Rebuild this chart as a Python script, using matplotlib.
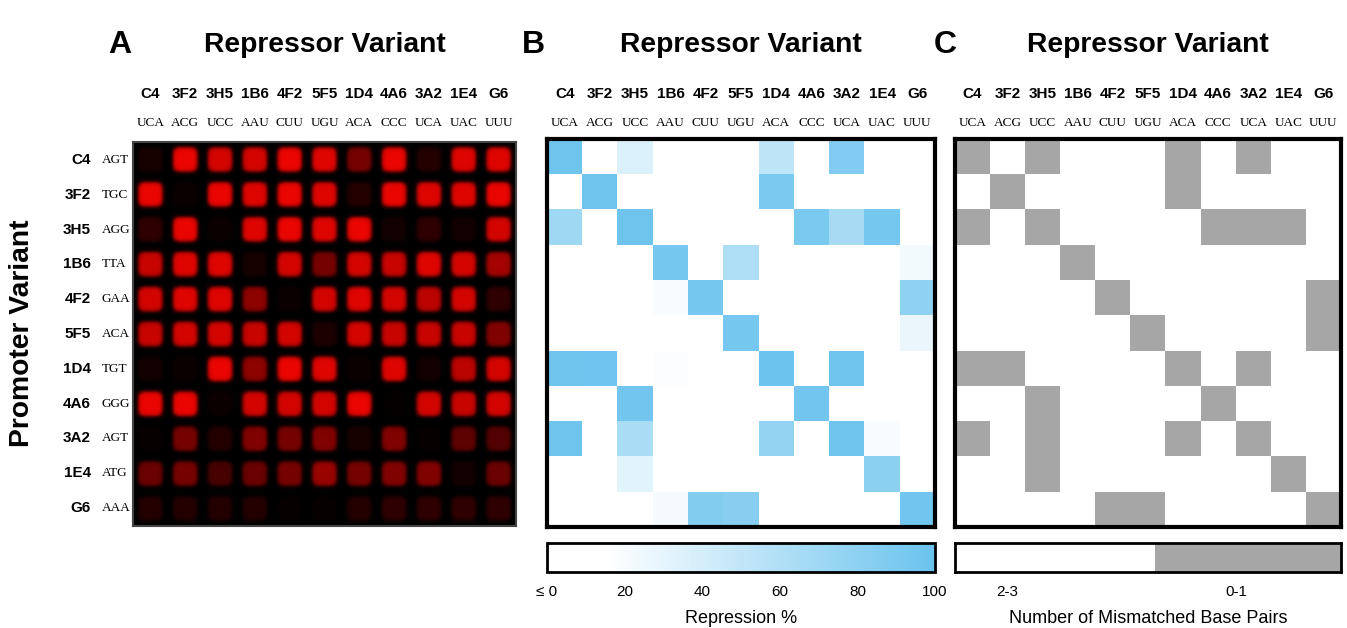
import numpy as np
import matplotlib
matplotlib.use('Agg')
import matplotlib.pyplot as plt
from matplotlib.colors import LinearSegmentedColormap, ListedColormap, Normalize
from matplotlib.transforms import blended_transform_factory
import matplotlib.cm as cm

# --- DATA ---
repressors = ["C4", "3F2", "3H5", "1B6", "4F2", "5F5", "1D4", "4A6", "3A2", "1E4", "G6"]
repressor_codons = ["UCA", "ACG", "UCC", "AAU", "CUU", "UGU", "ACA", "CCC", "UCA", "UAC", "UUU"]
promoters = ["C4", "3F2", "3H5", "1B6", "4F2", "5F5", "1D4", "4A6", "3A2", "1E4", "G6"]
promoter_codons = ["AGT", "TGC", "AGG", "TTA", "GAA", "ACA", "TGT", "GGG", "AGT", "ATG", "AAA"]

# panel A: relative fluorescence of each spot (0..1)
fluorescence = [
    [0.10, 1.00, 0.90, 0.90, 1.00, 0.95, 0.50, 1.00, 0.15, 0.95, 0.95],
    [1.00, 0.05, 1.00, 0.95, 1.00, 0.95, 0.15, 1.00, 0.95, 0.95, 1.00],
    [0.20, 1.00, 0.05, 0.95, 1.00, 0.95, 1.00, 0.08, 0.20, 0.08, 0.90],
    [0.85, 0.95, 0.95, 0.10, 0.90, 0.50, 0.90, 0.85, 0.95, 0.90, 0.70],
    [0.90, 0.95, 0.95, 0.60, 0.05, 0.90, 0.95, 0.90, 0.80, 0.90, 0.20],
    [0.85, 0.90, 0.90, 0.85, 0.90, 0.12, 0.90, 0.85, 0.85, 0.85, 0.55],
    [0.08, 0.05, 1.00, 0.60, 1.00, 0.95, 0.05, 0.95, 0.08, 0.80, 0.90],
    [1.00, 1.00, 0.05, 0.90, 0.90, 0.90, 1.00, 0.02, 0.90, 0.85, 0.90],
    [0.03, 0.50, 0.15, 0.55, 0.50, 0.55, 0.10, 0.55, 0.03, 0.40, 0.35],
    [0.45, 0.50, 0.30, 0.45, 0.50, 0.65, 0.50, 0.55, 0.55, 0.08, 0.45],
    [0.15, 0.15, 0.15, 0.15, 0.03, 0.03, 0.15, 0.20, 0.20, 0.20, 0.20],
]

# panel B: repression %
repression = [
    [97, 0, 36, 0, 0, 0, 52, 0, 87, 0, 0],
    [0, 97, 0, 0, 0, 0, 91, 0, 0, 0, 0],
    [70, 0, 97, 0, 0, 0, 0, 91, 65, 93, 0],
    [0, 0, 0, 93, 0, 61, 0, 0, 0, 0, 22],
    [0, 0, 0, 18, 93, 0, 0, 0, 0, 0, 79],
    [0, 0, 0, 0, 0, 93, 0, 0, 0, 0, 27],
    [97, 98, 0, 17, 0, 0, 100, 0, 97, 0, 0],
    [0, 0, 96, 0, 0, 0, 0, 96, 0, 0, 0],
    [97, 0, 64, 0, 0, 0, 76, 0, 97, 18, 0],
    [0, 0, 32, 0, 0, 0, 0, 0, 0, 81, 0],
    [0, 0, 0, 21, 86, 83, 0, 0, 0, 0, 96],
]
repr_ticks = [0, 20, 40, 60, 80, 100]
repr_tick_labels = ["≤ 0", "20", "40", "60", "80", "100"]

# panel C: 1 = 0-1 mismatches, 0 = 2-3 mismatches
low_mismatch = [
    [1, 0, 1, 0, 0, 0, 1, 0, 1, 0, 0],
    [0, 1, 0, 0, 0, 0, 1, 0, 0, 0, 0],
    [1, 0, 1, 0, 0, 0, 0, 1, 1, 1, 0],
    [0, 0, 0, 1, 0, 0, 0, 0, 0, 0, 0],
    [0, 0, 0, 0, 1, 0, 0, 0, 0, 0, 1],
    [0, 0, 0, 0, 0, 1, 0, 0, 0, 0, 1],
    [1, 1, 0, 0, 0, 0, 1, 0, 1, 0, 0],
    [0, 0, 1, 0, 0, 0, 0, 1, 0, 0, 0],
    [1, 0, 1, 0, 0, 0, 1, 0, 1, 0, 0],
    [0, 0, 1, 0, 0, 0, 0, 0, 0, 1, 0],
    [0, 0, 0, 0, 1, 1, 0, 0, 0, 0, 1],
]
mismatch_labels = ["2-3", "0-1"]
mismatch_split = [0.518, 0.482]   # widths of the legend segments

W, H = 1347, 628
SANS = ["Liberation Sans", "DejaVu Sans"]
SERIF = ["Liberation Serif", "DejaVu Serif"]
BLUE = "#6BC3EE"
GRAY = "#A6A6A6"

fig = plt.figure(figsize=(W / 100, H / 100), dpi=100)


def rect(x0, y0, x1, y1):
    return [x0 / W, 1 - y1 / H, (x1 - x0) / W, (y1 - y0) / H]


def fy(y):
    return 1 - y / H


def fx(x):
    return x / W


n = len(repressors)

# --- PANEL A: render spots ---
axA = fig.add_axes(rect(133, 140, 516, 528))
res = 40
u = (np.arange(res) + 0.5) / res - 0.5
uu, vv = np.meshgrid(u, u)
d = (np.abs(uu) ** 4 + np.abs(vv) ** 4) ** 0.25
spot = 1 / (1 + np.exp((d - 0.35) / 0.03))
fl = np.array(fluorescence)
img = np.zeros((n * res, n * res, 3))
for i in range(n):
    for j in range(n):
        img[i * res:(i + 1) * res, j * res:(j + 1) * res, 0] = spot * fl[i, j] * 0.92
        img[i * res:(i + 1) * res, j * res:(j + 1) * res, 1] = spot * fl[i, j] * 0.02
axA.imshow(img, extent=(-0.5, n - 0.5, n - 0.5, -0.5), interpolation='bilinear')
axA.set_facecolor('black')
axA.set_xticks([])
axA.set_yticks([])
for s in axA.spines.values():
    s.set_color('#444444')
    s.set_linewidth(1.5)

# --- PANEL B ---
axB = fig.add_axes(rect(547, 139, 935, 527))
blue_cmap = LinearSegmentedColormap.from_list("rep", [(0, "white"), (0.15, "white"), (1, BLUE)])
axB.imshow(np.array(repression), cmap=blue_cmap, vmin=0, vmax=100, aspect='auto')
axB.set_xticks([])
axB.set_yticks([])
for s in axB.spines.values():
    s.set_linewidth(3)

# --- PANEL C ---
axC = fig.add_axes(rect(955, 139, 1341, 527))
axC.imshow(np.array(low_mismatch), cmap=ListedColormap(["white", GRAY]), vmin=0, vmax=1, aspect='auto')
axC.set_xticks([])
axC.set_yticks([])
for s in axC.spines.values():
    s.set_linewidth(3)

# --- colour bars ---
caxB = fig.add_axes(rect(547, 543, 935, 572))
sm = cm.ScalarMappable(norm=Normalize(0, 100), cmap=blue_cmap)
cb = fig.colorbar(sm, cax=caxB, orientation='horizontal', ticks=repr_ticks)
cb.set_ticklabels(repr_tick_labels)
cb.ax.tick_params(length=0, pad=9, labelsize=11)
for lab in cb.ax.get_xticklabels():
    lab.set_family(SANS)
cb.outline.set_linewidth(2)
cb.set_label("Repression %", fontsize=13, family=SANS, labelpad=8)

caxC = fig.add_axes(rect(955, 543, 1341, 572))
left = 0
for w, c in zip(mismatch_split, ["white", GRAY]):
    caxC.barh(0, w, left=left, height=1, color=c)
    left += w
caxC.set_xlim(0, 1)
caxC.set_ylim(-0.5, 0.5)
caxC.set_xticks([0.135, 0.728])
caxC.set_xticklabels(mismatch_labels, family=SANS, fontsize=11)
caxC.set_yticks([])
caxC.tick_params(length=0, pad=9)
for s in caxC.spines.values():
    s.set_linewidth(2)
caxC.set_xlabel("Number of Mismatched Base Pairs", fontsize=13, family=SANS, labelpad=8)

# --- column labels and titles ---
for ax, letter, lx in [(axA, "A", 120), (axB, "B", 533), (axC, "C", 945)]:
    tr = blended_transform_factory(ax.transData, fig.transFigure)
    for j in range(n):
        ax.text(j, fy(94), repressors[j], transform=tr, ha='center', va='center',
                fontsize=11, fontweight='bold', family=SANS)
        ax.text(j, fy(123), repressor_codons[j], transform=tr, ha='center', va='center',
                fontsize=9.5, family=SERIF)
    ax.text(0.5, fy(45), "Repressor Variant", transform=blended_transform_factory(ax.transAxes, fig.transFigure),
            ha='center', va='center', fontsize=20.3, fontweight='bold', family=SANS)
    fig.text(fx(lx), fy(45), letter, ha='center', va='center', fontsize=23, fontweight='bold', family=SANS)

# --- row labels (panel A) ---
trR = blended_transform_factory(fig.transFigure, axA.transData)
for i in range(n):
    axA.text(fx(91), i, promoters[i], transform=trR, ha='right', va='center',
             fontsize=11, fontweight='bold', family=SANS)
    axA.text(fx(102), i, promoter_codons[i], transform=trR, ha='left', va='center',
             fontsize=9.5, family=SERIF)

fig.text(fx(22), fy(333), "Promoter Variant", rotation=90, ha='center', va='center',
         fontsize=20.3, fontweight='bold', family=SANS)

fig.savefig("out.png", dpi=100)
